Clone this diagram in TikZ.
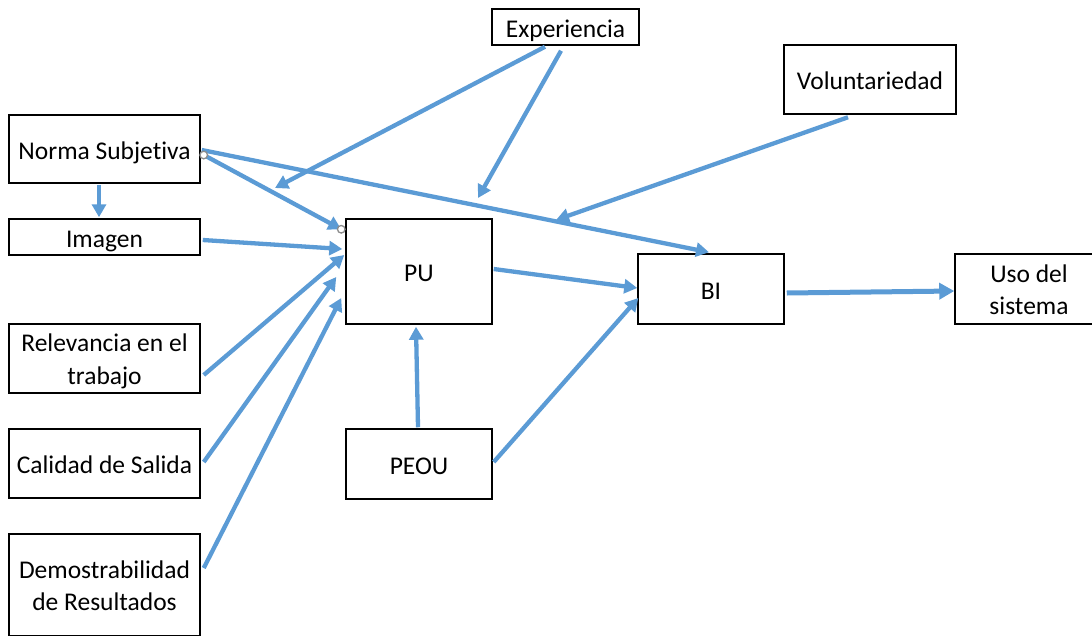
\documentclass[tikz,border=0pt]{standalone}
\usepackage{fontspec}
\setmainfont{Carlito}[Ligatures=NoCommon]
\usetikzlibrary{arrows.meta,calc}
\definecolor{linkblue}{HTML}{5B9BD5}
\definecolor{handlegray}{HTML}{8C8C8C}
\begin{document}
\begin{tikzpicture}[x=1pt,y=-1pt,
  box/.style={draw=black,line width=1.5pt,fill=white,inner sep=0pt,align=center,
    font=\fontsize{25.5}{32.5}\selectfont,text height=25pt,text depth=5pt},
  twoline/.style={text height=56pt,text depth=5pt},
  link/.style={draw=linkblue,line width=4.3pt,-{Triangle[length=13pt,width=14pt]}},
  biglink/.style={link,line width=5pt,-{Triangle[length=15pt,width=16pt]}},
  handle/.style={draw=handlegray,fill=white,line width=1.3pt}]
\useasboundingbox (0,0) rectangle (1092,635);
\clip (0,0) rectangle (1092,635);

% constructs
\node[box,minimum width=191pt,minimum height=68pt]  (ns)   at (104.5,149)   {Norma Subjetiva};
\node[box,minimum width=191pt,minimum height=36pt]  (img)  at (104.5,237)   {Imagen};
\node[box,twoline,minimum width=191pt,minimum height=69pt]  (rel)  at (104.5,358.5) {Relevancia en el\\trabajo};
\node[box,minimum width=191pt,minimum height=69pt]  (cal)  at (104.5,463.5) {Calidad de Salida};
\node[box,twoline,minimum width=191pt,minimum height=102pt] (dem)  at (104.5,585)   {Demostrabilidad\\de Resultados};
\node[box,minimum width=146pt,minimum height=105pt] (pu)   at (419,271.5)   {PU};
\node[box,minimum width=146pt,minimum height=70pt]  (peou) at (419,464)     {PEOU};
\node[box,minimum width=146pt,minimum height=70pt]  (bi)   at (711,289)     {BI};
\node[box,twoline,minimum width=148pt,minimum height=70pt]  (uso)  at (1029,289)    {Uso del\\sistema};
\node[box,minimum width=172pt,minimum height=69pt]  (vol)  at (870,79.5)    {Voluntariedad};
\node[box,minimum width=147pt,minimum height=36pt]  (exp)  at (565.5,27)    {Experiencia};

% free ends of the moderating arrows
\coordinate (expA) at (275,188);
\coordinate (expB) at (478,198);
\coordinate (volA) at (556,220);

% relations
\draw[link] ($(ns.south)+(-5.5,1)$) -- ($(img.north)+(-5.5,-1)$);
\draw[link] ($(ns.east)+(3,6)$) -- ($(pu.north west)+(-4,11)$);
\draw[link] ($(ns.east)+(1,1)$) -- ($(bi.north)+(-2,-1)$);
\draw[link] ($(img.east)+(2,3)$) -- ($(pu.west)+(-3,-22.5)$);
\draw[link] ($(rel.east)+(3,16.5)$) -- ($(pu.west)+(-1,-16.5)$);
\draw[link] ($(cal.east)+(3,-1.5)$) -- ($(pu.west)+(-9,5.5)$);
\draw[link] ($(dem.east)+(3,-17)$) -- ($(pu.west)+(-4,26.5)$);
\draw[link] ($(exp.south)+(-20.5,1)$) -- (expA);
\draw[link] ($(exp.south)+(-4.5,5)$) -- (expB);
\draw[link] ($(vol.south)+(-22,2.5)$) -- (volA);
\draw[link] ($(pu.east)+(1,-2.5)$) -- ($(bi.west)+(0,-1)$);
\draw[link] ($(peou.east)+(1,-2)$) -- ($(bi.west)+(1,9)$);
\draw[link] ($(peou.north)+(-1,-1)$) -- ($(pu.south)+(-3,2)$);
\draw[biglink] ($(bi.east)+(2,4)$) -- ($(uso.west)+(0,2)$);

% selection handles of the Norma Subjetiva -> PU connector
\draw[handle] ($(ns.east)+(3,6)$) circle[radius=3.8pt];
\draw[handle] ($(pu.north west)+(-4,11)$) circle[radius=3.8pt];
\end{tikzpicture}
\end{document}
